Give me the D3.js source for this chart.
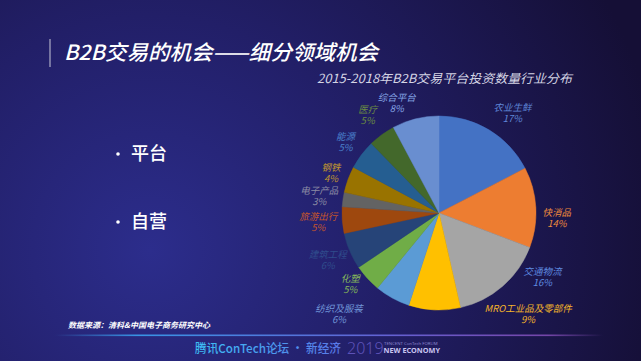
<!DOCTYPE html>
<html>
<head>
<meta charset="utf-8">
<script src="https://cdn.jsdelivr.net/npm/d3@7/dist/d3.min.js"></script>
<style>
  body { margin: 0; background: #17133f; overflow: hidden; }
  svg { display: block; }
</style>
</head>
<body>
<div id="chart"></div>
<script>
// 行业分布数据
const categories = ["农业生鲜", "快消品", "交通物流", "MRO工业品及零部件", "纺织及服装", "化塑",
    "建筑工程", "旅游出行", "电子产品", "钢铁", "能源", "医疗", "综合平台"];
const values = [17.4, 13.4, 15.7, 8.6, 5.9, 4.6, 6.1, 4.4, 2.4, 4.4, 4.9, 4.5, 7.8];
const pctLabels = ["17%", "14%", "16%", "9%", "6%", "5%", "6%", "5%", "3%", "4%", "5%", "5%", "8%"];
const sliceColors = ["#4472C4", "#ED7D31", "#A5A5A5", "#FFC000", "#5B9BD5", "#70AD47",
    "#264478", "#9E480E", "#636363", "#997300", "#255E91", "#43682B", "#698ED0"];
const labelColors = ["#5f86d8", "#ef8a3c", "#5f8be0", "#f4b52a", "#7196d8", "#86b85a",
    "#2f4c8c", "#c2542c", "#8c8ca4", "#c0962e", "#4a80cc", "#6a8c42", "#86a6e6"];

const width = 641, height = 361;
const cx = 439, cy = 213, radius = 97;

const svg = d3.select("#chart").append("svg")
    .attr("width", width)
    .attr("height", height);

// 背景渐变
const defs = svg.append("defs");
const bg = defs.append("radialGradient")
    .attr("id", "bg")
    .attr("gradientUnits", "userSpaceOnUse")
    .attr("cx", 150).attr("cy", 250).attr("r", 520);
bg.append("stop").attr("offset", "0").attr("stop-color", "#2c2d8c");
bg.append("stop").attr("offset", "0.45").attr("stop-color", "#221f68");
bg.append("stop").attr("offset", "1").attr("stop-color", "#150f36");

const lineGrad = defs.append("linearGradient").attr("id", "lineGrad");
lineGrad.append("stop").attr("offset", "0").attr("stop-color", "#3aa0f0").attr("stop-opacity", 0);
lineGrad.append("stop").attr("offset", "0.15").attr("stop-color", "#3aa0f0").attr("stop-opacity", 0.9);
lineGrad.append("stop").attr("offset", "0.6").attr("stop-color", "#6a6ae0").attr("stop-opacity", 0.9);
lineGrad.append("stop").attr("offset", "0.9").attr("stop-color", "#9a5ad0").attr("stop-opacity", 0.7);
lineGrad.append("stop").attr("offset", "1").attr("stop-color", "#9a5ad0").attr("stop-opacity", 0);

const footGrad = defs.append("linearGradient").attr("id", "footGrad");
footGrad.append("stop").attr("offset", "0").attr("stop-color", "#3cc0f4");
footGrad.append("stop").attr("offset", "1").attr("stop-color", "#5a78e8");

svg.append("rect")
    .attr("width", width).attr("height", height)
    .attr("fill", "url(#bg)");

const cjk = "'Noto Sans CJK SC', 'Noto Sans', sans-serif";

// 标题
svg.append("line")
    .attr("x1", 50).attr("x2", 50)
    .attr("y1", 39).attr("y2", 67)
    .attr("stroke", "#c8c8d8").attr("stroke-width", 1);

svg.append("text")
    .attr("x", 64).attr("y", 60)
    .attr("fill", "#ffffff")
    .attr("textLength", 314)
    .attr("lengthAdjust", "spacingAndGlyphs")
    .style("font-family", cjk)
    .style("font-size", "21px")
    .style("font-weight", "500")
    .style("font-style", "italic")
    .text("B2B交易的机会——细分领域机会");

svg.append("text")
    .attr("x", 317).attr("y", 83)
    .attr("fill", "#d4d4e4")
    .attr("textLength", 255)
    .attr("lengthAdjust", "spacingAndGlyphs")
    .style("font-family", cjk)
    .style("font-size", "12.5px")
    .style("font-style", "italic")
    .text("2015-2018年B2B交易平台投资数量行业分布");

// 左侧要点
const bullets = ["平台", "自营"];
const bulletY = d3.scalePoint().domain(bullets).range([154, 222]);
const bulletG = svg.selectAll("g.bullet")
    .data(bullets)
    .enter().append("g")
    .attr("class", "bullet")
    .attr("transform", d => `translate(118,${bulletY(d)})`);
bulletG.append("circle")
    .attr("r", 1.8)
    .attr("fill", "#ffffff");
bulletG.append("text")
    .attr("x", 13).attr("dy", "0.36em")
    .attr("fill", "#ffffff")
    .style("font-family", cjk)
    .style("font-size", "18px")
    .style("font-weight", "500")
    .text(d => d);

// 饼图
const data = categories.map((c, i) => ({
    name: c, value: values[i], pct: pctLabels[i],
    color: sliceColors[i], labelColor: labelColors[i]
}));

const pie = d3.pie()
    .sort(null)
    .value(d => d.value)
    .startAngle(0)
    .endAngle(2 * Math.PI);

const arc = d3.arc()
    .innerRadius(0)
    .outerRadius(radius);

const arcs = pie(data);

const g = svg.append("g")
    .attr("transform", `translate(${cx},${cy})`);

g.selectAll("path.slice")
    .data(arcs)
    .enter().append("path")
    .attr("class", "slice")
    .attr("d", arc)
    .attr("fill", d => d.data.color)
    .attr("stroke", d => d.data.color)
    .attr("stroke-width", 0.5);

// 标签位置：外侧，拥挤处做角度微调（类似 Excel 最佳匹配）
const labelNudge = {
    "农业生鲜": { da: 5, r: 124 },
    "快消品": { da: 6, r: 118 },
    "交通物流": { da: -17, r: 122 },
    "MRO工业品及零部件": { da: -44, r: 135 },
    "纺织及服装": { da: 16, r: 142 },
    "化塑": { da: 3.5, r: 114 },
    "钢铁": { da: 0, r: 115 },
    "能源": { da: 0, r: 117 },
    "综合平台": { da: -7, r: 118 }
};

const labels = g.selectAll("text.label")
    .data(arcs)
    .enter().append("text")
    .attr("class", "label")
    .attr("transform", d => {
        const n = labelNudge[d.data.name] || { da: 0, r: 121 };
        const a = (d.startAngle + d.endAngle) / 2 + n.da * Math.PI / 180;
        const p = d3.pointRadial(a, n.r);
        return `translate(${p[0]},${p[1]})`;
    })
    .attr("text-anchor", "middle")
    .attr("fill", d => d.data.labelColor)
    .style("font-family", cjk)
    .style("font-size", "9.5px")
    .style("font-style", "italic");

labels.append("tspan")
    .attr("x", 0).attr("y", -5.5).attr("dy", "0.35em")
    .text(d => d.data.name);
labels.append("tspan")
    .attr("x", 0).attr("y", 5.5).attr("dy", "0.35em")
    .text(d => d.data.pct);

// 数据来源
svg.append("text")
    .attr("x", 68).attr("y", 328)
    .attr("fill", "#ffffff")
    .attr("textLength", 142)
    .attr("lengthAdjust", "spacingAndGlyphs")
    .style("font-family", cjk)
    .style("font-size", "7.8px")
    .style("font-weight", "700")
    .style("font-style", "italic")
    .text("数据来源：清科&中国电子商务研究中心");

// 底部分隔线
svg.append("rect")
    .attr("x", 55).attr("y", 334.5)
    .attr("width", 548).attr("height", 1.6)
    .attr("fill", "url(#lineGrad)");

// 页脚
svg.append("text")
    .attr("x", 195).attr("y", 353)
    .attr("fill", "url(#footGrad)")
    .attr("textLength", 146)
    .attr("lengthAdjust", "spacingAndGlyphs")
    .style("font-family", cjk)
    .style("font-size", "12px")
    .style("font-weight", "500")
    .text("腾讯ConTech论坛 · 新经济");

svg.append("text")
    .attr("x", 347).attr("y", 354)
    .attr("fill", "#5d52b8")
    .style("font-family", "'Noto Sans', sans-serif")
    .style("font-size", "16px")
    .style("font-weight", "300")
    .text("2019");

svg.append("text")
    .attr("x", 384).attr("y", 344.5)
    .attr("fill", "#8c86d0")
    .style("font-family", "'Noto Sans', sans-serif")
    .style("font-size", "4.3px")
    .text("TENCENT ConTech FORUM");

svg.append("text")
    .attr("x", 383.5).attr("y", 353)
    .attr("fill", "#c8c4f0")
    .style("font-family", "'Noto Sans', sans-serif")
    .style("font-size", "7.3px")
    .style("font-weight", "700")
    .text("NEW ECONOMY");
</script>
</body>
</html>
